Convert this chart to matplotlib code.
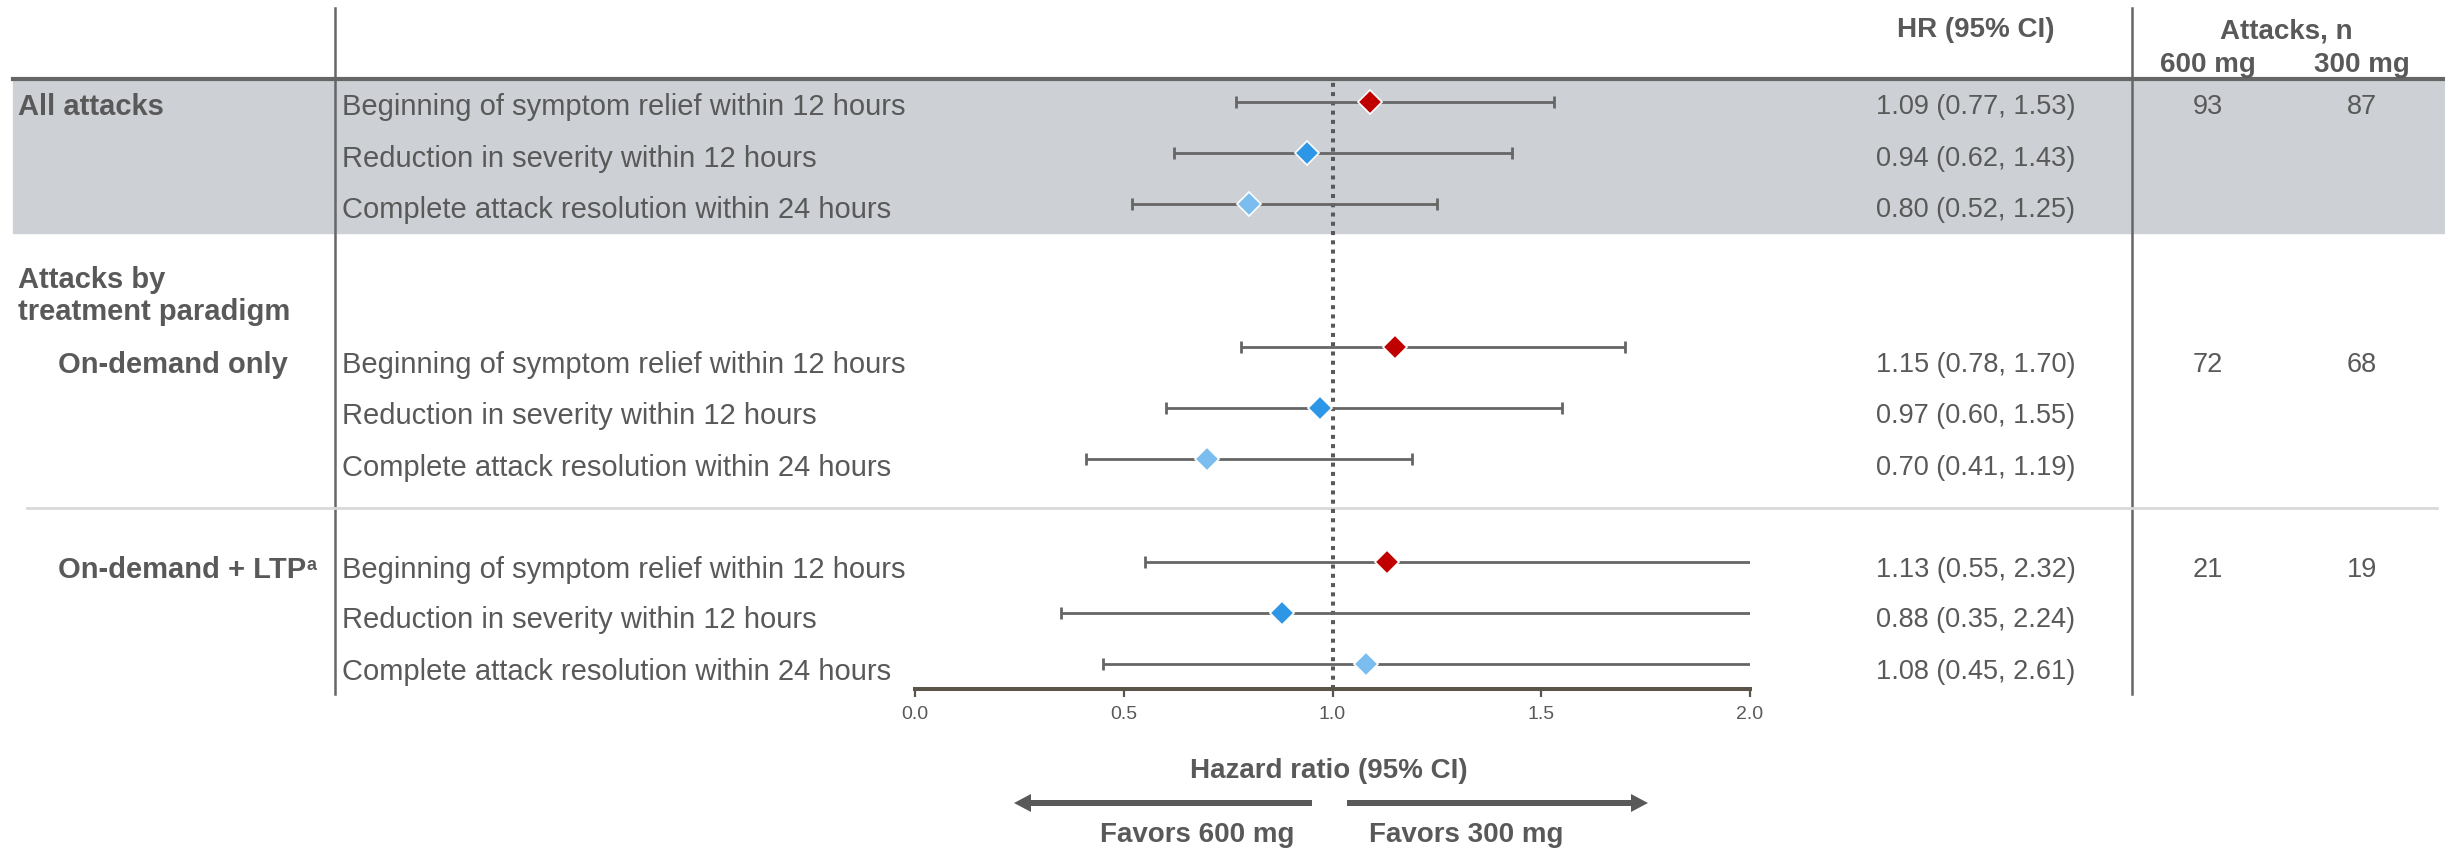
import matplotlib.pyplot as plt
from matplotlib.patches import Rectangle

plt.rcParams['font.family'] = ['Liberation Sans', 'DejaVu Sans']

# Дані
outcomes = ["Beginning of symptom relief within 12 hours",
            "Reduction in severity within 12 hours",
            "Complete attack resolution within 24 hours"]
hr_all = [1.09, 0.94, 0.80]
lo_all = [0.77, 0.62, 0.52]
hi_all = [1.53, 1.43, 1.25]
hr_od = [1.15, 0.97, 0.70]
lo_od = [0.78, 0.60, 0.41]
hi_od = [1.70, 1.55, 1.19]
hr_ltp = [1.13, 0.88, 1.08]
lo_ltp = [0.55, 0.35, 0.45]
hi_ltp = [2.32, 2.24, 2.61]
n_600 = [93, 72, 21]
n_300 = [87, 68, 19]
x_ticks = [0.0, 0.5, 1.0, 1.5, 2.0]

# Розмітка (пікселі)
W, H = 2445, 849
text_rows = [[104, 156, 207], [362, 413, 465], [567, 617, 669]]
mark_rows = [[102, 153, 204], [347, 408, 459], [562, 613, 664]]
colors = ['#c00000', '#2e96e6', '#7bbdee']
TXT = '#595959'
LINE = '#666666'

fig = plt.figure(figsize=(W / 100, H / 100), dpi=100)
ax = fig.add_axes([0, 0, 1, 1])
ax.set_xlim(0, W)
ax.set_ylim(H, 0)
ax.axis('off')

# Сіра смуга та лінії таблиці
ax.add_patch(Rectangle((13, 80), W - 13, 153, color='#cdd0d4', zorder=0))
ax.plot([13, W], [79, 79], color=LINE, lw=3, zorder=2)
ax.plot([335, 335], [8, 694], color=LINE, lw=1.8, zorder=1)
ax.plot([2132, 2132], [8, 694], color=LINE, lw=1.8, zorder=1)
ax.plot([27, 2437], [508, 508], color='#d9d9d9', lw=2, zorder=3)

# Заголовки
ax.text(1976, 30, "HR (95% CI)", ha='center', va='center', fontsize=20,
        fontweight='bold', color=TXT)
ax.text(2286, 31, "Attacks, n", ha='center', va='center', fontsize=20,
        fontweight='bold', color=TXT)
ax.text(2208, 65, "600 mg", ha='center', va='center', fontsize=20,
        fontweight='bold', color=TXT)
ax.text(2362, 65, "300 mg", ha='center', va='center', fontsize=20,
        fontweight='bold', color=TXT)

# Назви розділів
ax.text(18, 107, "All attacks", ha='left', va='center', fontsize=21,
        fontweight='bold', color=TXT)
ax.text(18, 296, "Attacks by\ntreatment paradigm", ha='left', va='center',
        fontsize=21, fontweight='bold', color=TXT, linespacing=1.15)
ax.text(58, 365, "On-demand only", ha='left', va='center', fontsize=21,
        fontweight='bold', color=TXT)
ltp = ax.text(58, 570, "On-demand + LTP", ha='left', va='center', fontsize=21,
              fontweight='bold', color=TXT)
ax.annotate("a", xy=(1.0, 0.95), xycoords=ltp, ha='left', va='top',
            fontsize=13, fontweight='bold', color=TXT)

# Ліс-графік
fax = fig.add_axes([915 / W, 1 - 689 / H, 835 / W, (689 - 80) / H])
fax.patch.set_visible(False)
fax.set_xlim(0, 2)
fax.set_ylim(689, 80)
for s in ['top', 'left', 'right']:
    fax.spines[s].set_visible(False)
fax.spines['bottom'].set_color('#5a5449')
fax.spines['bottom'].set_linewidth(2.9)
fax.set_yticks([])
fax.set_xticks(x_ticks)
fax.set_xticklabels([f"{t:.1f}" for t in x_ticks])
fax.tick_params(axis='x', length=6, width=1.6, color='#5a5449',
                labelsize=14, labelcolor=TXT, pad=6)
fax.axvline(1.0, color=TXT, lw=2.9, linestyle=(0, (1, 1.3)), zorder=1)

groups = [(hr_all, lo_all, hi_all), (hr_od, lo_od, hi_od), (hr_ltp, lo_ltp, hi_ltp)]
for g, (hr, lo, hi) in enumerate(groups):
    for i in range(3):
        y = mark_rows[g][i]
        fax.errorbar(hr[i], y, xerr=[[hr[i] - lo[i]], [hi[i] - hr[i]]],
                     fmt='none', ecolor=LINE, elinewidth=2.0, capsize=4.3,
                     capthick=2.0, zorder=2)
        fax.plot(hr[i], y, marker='D', ms=12, mfc=colors[i], mec='white',
                 mew=1.2, ls='none', zorder=3)
        ty = text_rows[g][i] + 3
        ax.text(342, ty, outcomes[i], ha='left', va='center', fontsize=21,
                color=TXT)
        ax.text(1976, ty, f"{hr[i]:.2f} ({lo[i]:.2f}, {hi[i]:.2f})",
                ha='center', va='center', fontsize=19.5, color=TXT)
    ax.text(2208, text_rows[g][0] + 3, str(n_600[g]), ha='center', va='center',
            fontsize=19.5, color=TXT)
    ax.text(2362, text_rows[g][0] + 3, str(n_300[g]), ha='center', va='center',
            fontsize=19.5, color=TXT)

# Підпис осі та стрілки
ax.text(1329, 771, "Hazard ratio (95% CI)", ha='center', va='center',
        fontsize=20, fontweight='bold', color=TXT)
ax.arrow(1312, 803, 1014 - 1312, 0, width=6, head_width=18, head_length=17,
         length_includes_head=True, color=TXT, lw=0)
ax.arrow(1347, 803, 1648 - 1347, 0, width=6, head_width=18, head_length=17,
         length_includes_head=True, color=TXT, lw=0)
ax.text(1197, 835, "Favors 600 mg", ha='center', va='center', fontsize=20,
        fontweight='bold', color=TXT)
ax.text(1466, 835, "Favors 300 mg", ha='center', va='center', fontsize=20,
        fontweight='bold', color=TXT)

fig.savefig("out.png", dpi=100)
